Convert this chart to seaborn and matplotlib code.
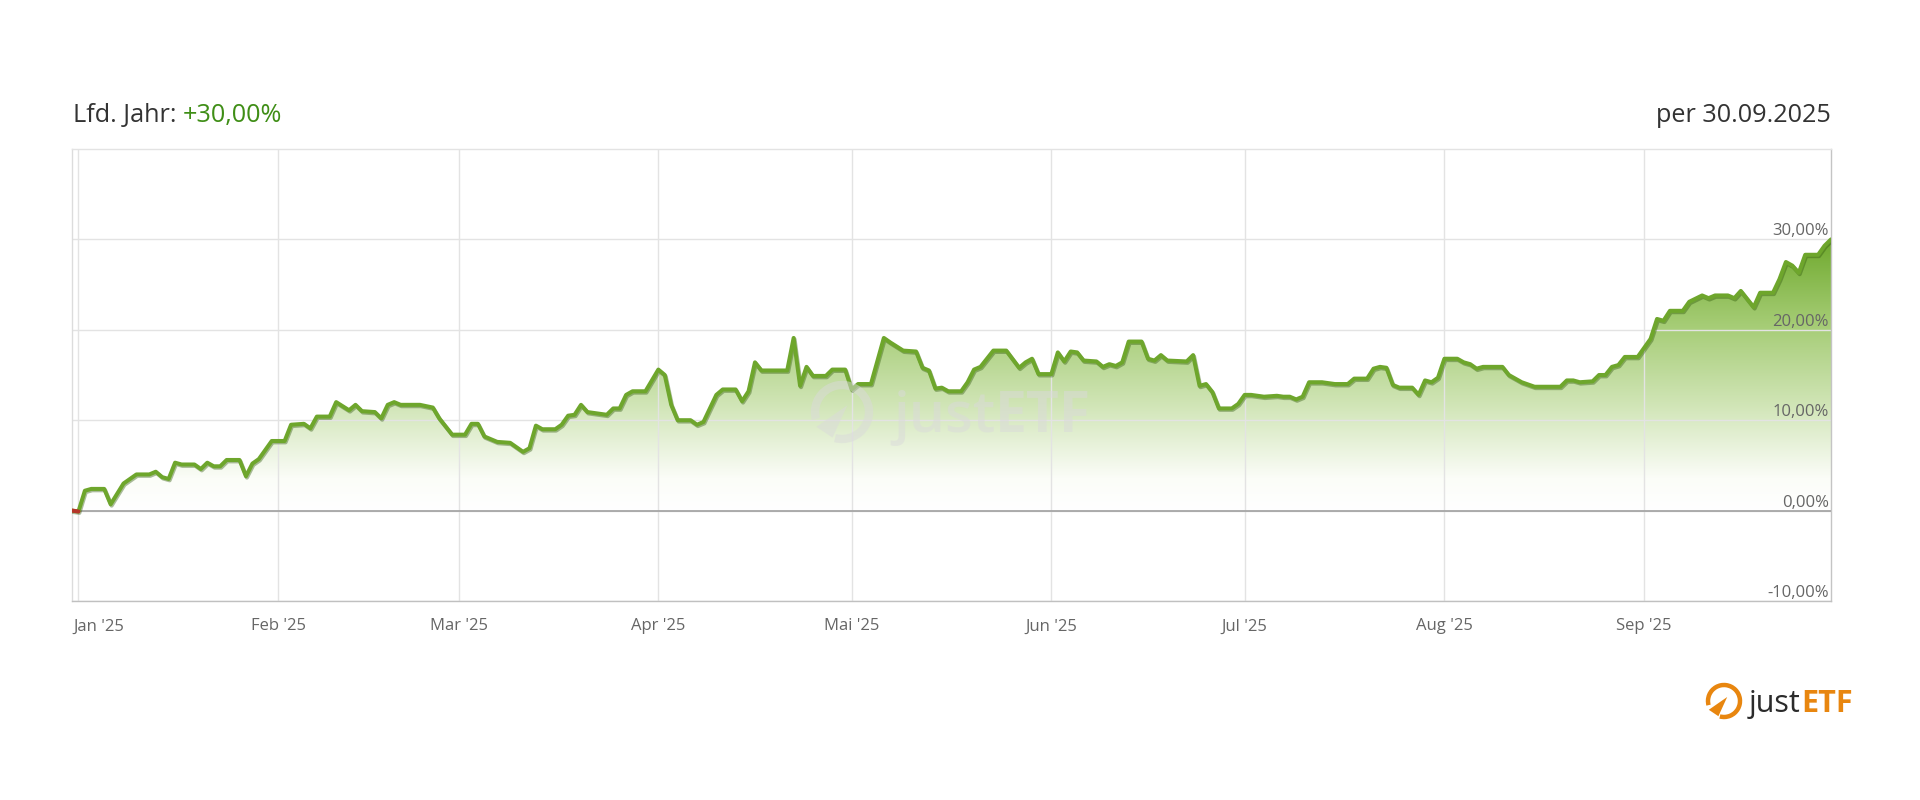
import numpy as np
import pandas as pd
import matplotlib
matplotlib.use("Agg")
import matplotlib.pyplot as plt
import matplotlib.patheffects as pe
import matplotlib.dates as mdates
import matplotlib.transforms as mtransforms
from matplotlib.colors import LinearSegmentedColormap
from matplotlib.patches import Arc, Polygon
import seaborn as sns

# YTD performance (%), days counted from 1 Jan 2025
days = [
    -1, 0, 1, 2, 4, 5, 7, 9, 11, 12,
    13, 14, 15, 16, 18, 19, 20, 21, 22, 23,
    25, 26, 27, 28, 30, 32, 33, 35, 36, 37,
    39, 40, 42, 43, 44, 46, 47, 48, 49, 50,
    53, 55, 56, 58, 60, 61, 62, 63, 65, 67,
    68, 69, 70, 71, 72, 74, 75, 76, 77, 78,
    79, 81, 82, 83, 84, 85, 86, 88, 90, 91,
    92, 93, 95, 96, 97, 99, 100, 102, 103, 104,
    105, 106, 110, 111, 112, 113, 114, 116, 117, 119,
    120, 121, 123, 125, 126, 128, 130, 131, 132, 133,
    134, 135, 137, 138, 139, 140, 142, 144, 146, 147,
    148, 149, 151, 152, 153, 154, 155, 156, 158, 159,
    160, 161, 162, 163, 165, 166, 167, 168, 169, 172,
    173, 174, 175, 176, 177, 179, 180, 181, 182, 184,
    186, 187, 188, 189, 190, 191, 193, 195, 197, 198,
    200, 201, 202, 203, 204, 205, 207, 208, 209, 210,
    211, 212, 214, 215, 216, 217, 218, 221, 222, 224,
    226, 230, 231, 232, 233, 235, 236, 237, 238, 239,
    240, 242, 244, 245, 246, 247, 249, 250, 252, 253,
    254, 256, 257, 258, 259, 260, 261, 263, 264, 265,
    266, 267, 268, 270, 271, 272,
]
ytd = [
    0.0, -0.1, 2.2, 2.4, 2.4, 0.7, 3.0, 4.0, 4.0, 4.3,
    3.7, 3.5, 5.3, 5.1, 5.1, 4.6, 5.3, 4.9, 4.9, 5.6,
    5.6, 3.8, 5.2, 5.7, 7.7, 7.7, 9.5, 9.6, 9.1, 10.4,
    10.4, 12.0, 11.1, 11.7, 11.0, 10.9, 10.2, 11.7, 12.0, 11.7,
    11.7, 11.4, 10.2, 8.4, 8.4, 9.6, 9.6, 8.2, 7.6, 7.5,
    7.0, 6.5, 6.9, 9.4, 9.0, 9.0, 9.5, 10.5, 10.6, 11.7,
    10.9, 10.7, 10.6, 11.3, 11.3, 12.8, 13.2, 13.2, 15.6, 15.0,
    11.7, 10.0, 10.0, 9.5, 9.8, 12.8, 13.4, 13.4, 12.1, 13.2,
    16.4, 15.5, 15.5, 19.1, 13.8, 15.9, 14.9, 14.9, 15.6, 15.6,
    13.4, 14.0, 14.0, 19.1, 18.6, 17.7, 17.6, 15.8, 15.5, 13.5,
    13.6, 13.2, 13.2, 14.2, 15.6, 15.9, 17.7, 17.7, 15.8, 16.4,
    16.8, 15.1, 15.1, 17.5, 16.5, 17.6, 17.5, 16.6, 16.5, 15.9,
    16.2, 16.0, 16.4, 18.7, 18.7, 16.8, 16.6, 17.2, 16.6, 16.5,
    17.2, 13.8, 14.0, 13.1, 11.3, 11.3, 11.8, 12.8, 12.8, 12.6,
    12.7, 12.6, 12.6, 12.3, 12.6, 14.2, 14.2, 14.0, 14.0, 14.6,
    14.6, 15.7, 15.9, 15.8, 13.9, 13.6, 13.6, 12.8, 14.4, 14.2,
    14.7, 16.8, 16.8, 16.4, 16.2, 15.7, 15.9, 15.9, 15.0, 14.2,
    13.7, 13.7, 14.4, 14.4, 14.2, 14.3, 15.0, 15.0, 15.9, 16.1,
    17.0, 17.0, 19.0, 21.2, 21.0, 22.1, 22.1, 23.1, 23.8, 23.5,
    23.8, 23.8, 23.5, 24.3, 23.4, 22.5, 24.1, 24.1, 25.6, 27.5,
    27.1, 26.3, 28.3, 28.3, 29.3, 30.0,
]

month_starts = ["2025-01-01", "2025-02-01", "2025-03-01", "2025-04-01", "2025-05-01",
                "2025-06-01", "2025-07-01", "2025-08-01", "2025-09-01"]
month_labels = ["Jan '25", "Feb '25", "Mar '25", "Apr '25", "Mai '25",
                "Jun '25", "Jul '25", "Aug '25", "Sep '25"]
y_ticks = [-10, 0, 10, 20, 30]
y_labels = ["-10,00%", "0,00%", "10,00%", "20,00%", "30,00%"]

title_left = "Lfd. Jahr: "
title_value = "+30,00%"
title_right = "per 30.09.2025"

LINE = "#6ea62c"
GREEN_TXT = "#3f8e16"
ORANGE = "#e8860f"
W, H = 1920, 800

sns.set_theme(style="white")
plt.rcParams["font.family"] = ["Open Sans", "DejaVu Sans"]

df = pd.DataFrame({
    "date": pd.Timestamp("2025-01-01") + pd.to_timedelta(days, unit="D"),
    "ytd": ytd,
})

fig = plt.figure(figsize=(W / 100, H / 100), dpi=100)
fig.patch.set_facecolor("white")
ax = fig.add_axes([72 / W, 1 - 601 / H, (1831 - 72) / W, (601 - 149) / H])

# gradient area under the line
x_num = mdates.date2num(df["date"])
area = ax.fill_between(x_num, df["ytd"], 0, color="none", lw=0)
cmap = LinearSegmentedColormap.from_list(
    "ytd", [(0, "#ffffff"), (0.12, "#fbfdf8"), (0.4, "#cfe4b4"), (0.7, "#a3cb72"), (1, "#6fa92d")])
grad = np.linspace(0, 1, 256).reshape(-1, 1)
img = ax.imshow(grad, cmap=cmap, origin="lower", aspect="auto", zorder=1,
                extent=[x_num[0], x_num[-1], 0, max(ytd)])
img.set_clip_path(area.get_paths()[0], transform=ax.transData)

sns.lineplot(data=df, x="date", y="ytd", color=LINE, lw=2.9, ax=ax, zorder=4,
             path_effects=[pe.SimpleLineShadow(offset=(0.7, -1.0), shadow_color="#2f5a0a", alpha=0.4),
                           pe.Normal()])
sns.lineplot(data=df.iloc[:2], x="date", y="ytd", color="#b5362a", lw=2.9, ax=ax, zorder=5)

ax.axhline(0, color="#a6a6a6", lw=1.3, zorder=3)

ax.set_xlim(pd.Timestamp("2024-12-31"), pd.Timestamp("2025-09-30"))
ax.set_ylim(-10, 40)
ax.set_xlabel("")
ax.set_ylabel("")

ax.set_axisbelow("line")
ax.set_xticks(pd.to_datetime(month_starts))
ax.set_xticklabels(month_labels)
ax.set_yticks(y_ticks)
ax.set_yticklabels(y_labels)
ax.grid(True, color="#e3e3e3", lw=1.0)
ax.yaxis.tick_right()
ax.tick_params(axis="y", length=0, pad=-1.5, labelsize=12, labelcolor="#666666")
ax.tick_params(axis="x", length=0, pad=12.5, labelsize=12, labelcolor="#666666")
for lbl in ax.get_yticklabels():
    lbl.set_ha("right")
    lbl.set_va("bottom")
first = ax.get_xticklabels()[0]
first.set_ha("left")
first.set_transform(first.get_transform() + mtransforms.ScaledTranslation(-5 / 100, 0, fig.dpi_scale_trans))

for side, col in [("top", "#e3e3e3"), ("left", "#dcdcdc"), ("right", "#c4c4c4"), ("bottom", "#c0c0c0")]:
    ax.spines[side].set_color(col)
    ax.spines[side].set_linewidth(1.0)


def add_icon(cx, cy, r, color, alpha, lw):
    # round gauge-like icon of the justETF logo, centre/radius in pixels from top-left
    s = r * 1.25
    iax = fig.add_axes([(cx - s) / W, 1 - (cy + s) / H, 2 * s / W, 2 * s / H])
    iax.set_xlim(-1.25, 1.25)
    iax.set_ylim(-1.25, 1.25)
    iax.set_aspect("equal")
    iax.axis("off")
    iax.add_patch(Arc((0, 0), 2, 2, theta1=-105, theta2=195, color=color, lw=lw, alpha=alpha))
    iax.add_patch(Polygon([(-0.95, -0.55), (0.2, 0.25), (-0.35, -0.95)], closed=True,
                          color=color, alpha=alpha, lw=0))
    return iax


# faint watermark
WM = "#dadada"
add_icon(842, 412, 27, WM, 0.5, 6)
fig.text(893 / W, 1 - 432 / H, "just", fontsize=41, fontweight="semibold", color=WM, alpha=0.5,
         va="baseline")
fig.canvas.draw()
wm = fig.texts[-1].get_window_extent()
fig.text(wm.x1 / W, 1 - 432 / H, "ETF", fontsize=41, fontweight="bold", color=WM,
         alpha=0.5, va="baseline")

# header texts
t1 = fig.text(73 / W, 1 - 115.5 / H, title_left, fontsize=18.2, color="#333333", va="center")
fig.canvas.draw()
bb = t1.get_window_extent()
fig.text(bb.x1 / W, 1 - 115.5 / H, title_value, fontsize=18.2, color=GREEN_TXT, va="center")
fig.text(1831 / W, 1 - 115.5 / H, title_right, fontsize=18.2, color="#333333", va="center", ha="right")

# logo bottom right
add_icon(1724, 701, 16, ORANGE, 1.0, 3.2)
j = fig.text(1749 / W, 1 - 712 / H, "just", fontsize=22, color="#2b2b2b", va="baseline")
fig.canvas.draw()
jb = j.get_window_extent()
fig.text(jb.x1 / W + 1 / W, 1 - 712 / H, "ETF", fontsize=22, fontweight="bold", color=ORANGE,
         va="baseline")

fig.savefig("out.png", dpi=100, facecolor="white")
